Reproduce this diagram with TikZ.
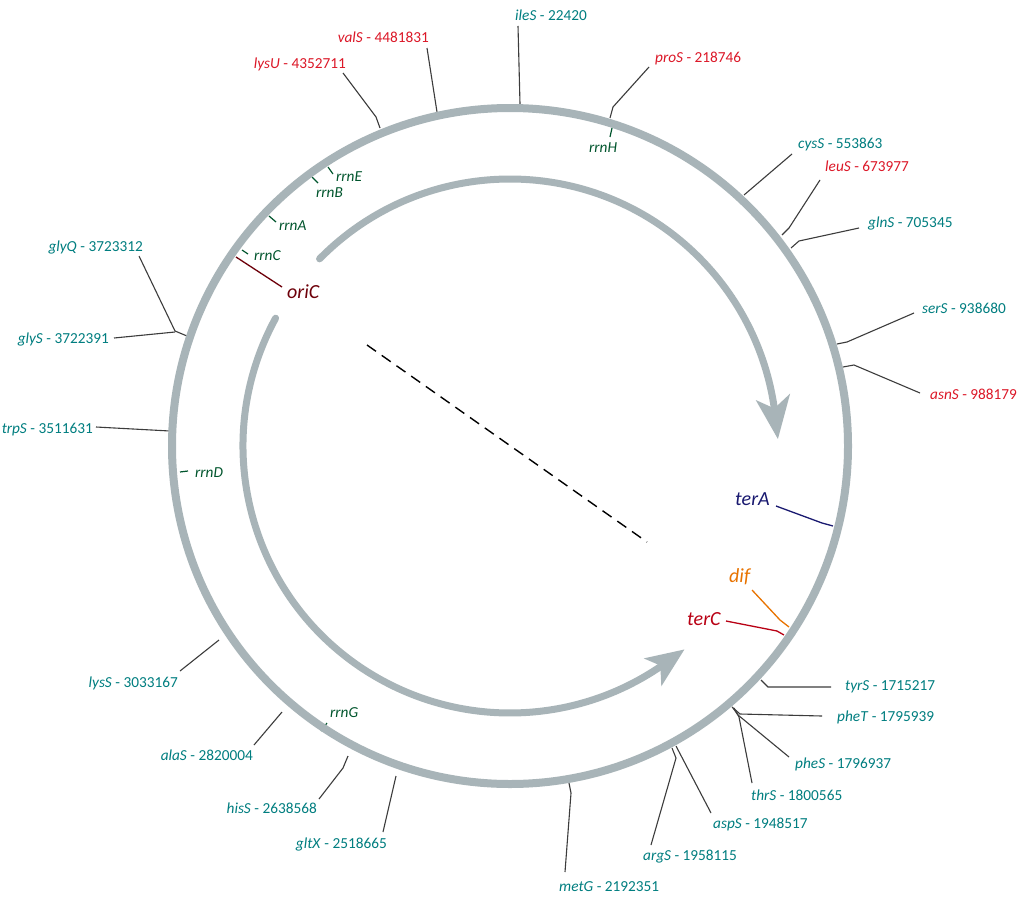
\documentclass[tikz,border=0pt]{standalone}
\usepackage{fontspec}
\setmainfont{Carlito}
\usetikzlibrary{calc}
\definecolor{bandc}{RGB}{168,180,184}
\definecolor{leadc}{RGB}{60,60,60}
\definecolor{tealc}{RGB}{0,126,128}
\definecolor{redc}{RGB}{220,24,40}
\definecolor{rrnc}{RGB}{0,85,45}
\definecolor{oric}{RGB}{110,0,10}
\definecolor{terac}{RGB}{25,25,112}
\definecolor{difc}{RGB}{232,115,0}
\definecolor{tercc}{RGB}{185,0,20}
\begin{document}
\begin{tikzpicture}[x=1pt,y=-1pt,
  band/.style={draw=bandc, line width=8pt},
  inarc/.style={draw=bandc, line width=7pt},
  lead/.style={draw=leadc, line width=1.1pt},
  gene/.style={font=\fontsize{15.3}{18}\selectfont, inner sep=0pt, text=tealc},
  rgene/.style={gene, text=redc},
  rrn/.style={font=\fontsize{15.3}{18}\selectfont\itshape, inner sep=0pt, text=rrnc},
  tickline/.style={draw=rrnc, line width=1.2pt},
  big/.style={font=\fontsize{20}{24}\selectfont\itshape, inner sep=0pt}]
\useasboundingbox[fill=white] (0,0) rectangle (1024,899);
\coordinate (c) at (510,446);

% ---- gene labels ----
\node[rgene, anchor=base east] (lysU) at (346,68) {\textit{lysU} - 4352711};
\node[rgene, anchor=base east] (valS) at (429,42) {\textit{valS} - 4481831};
\node[gene, anchor=base west] (ileS) at (515,21) {\textit{ileS} - 22420};
\node[rgene, anchor=base west] (proS) at (655,63) {\textit{proS} - 218746};
\node[gene, anchor=base west] (cysS) at (798,148) {\textit{cysS} - 553863};
\node[rgene, anchor=base west] (leuS) at (825,171) {\textit{leuS} - 673977};
\node[gene, anchor=base west] (glnS) at (868,227) {\textit{glnS} - 705345};
\node[gene, anchor=base west] (serS) at (922,313) {\textit{serS} - 938680};
\node[rgene, anchor=base west] (asnS) at (930,399) {\textit{asnS} - 988179};
\node[gene, anchor=base west] (tyrS) at (845,690) {\textit{tyrS} - 1715217};
\node[gene, anchor=base west] (pheT) at (837,721) {\textit{pheT} - 1795939};
\node[gene, anchor=base west] (pheS) at (795,768) {\textit{pheS} - 1796937};
\node[gene, anchor=base west] (thrS) at (751,800) {\textit{thrS} - 1800565};
\node[gene, anchor=base west] (aspS) at (713,828) {\textit{aspS} - 1948517};
\node[gene, anchor=base west] (argS) at (643,860) {\textit{argS} - 1958115};
\node[gene, anchor=base west] (metG) at (559,891) {\textit{metG} - 2192351};
\node[gene, anchor=base east] (gltX) at (387,848) {\textit{gltX} - 2518665};
\node[gene, anchor=base east] (hisS) at (317,813) {\textit{hisS} - 2638568};
\node[gene, anchor=base east] (alaS) at (253,760) {\textit{alaS} - 2820004};
\node[gene, anchor=base east] (lysS) at (178,687) {\textit{lysS} - 3033167};
\node[gene, anchor=base east] (glyQ) at (143,251) {\textit{glyQ} - 3723312};
\node[gene, anchor=base east] (glyS) at (109,343) {\textit{glyS} - 3722391};
\node[gene, anchor=base east] (trpS) at (93,433) {\textit{trpS} - 3511631};

% ---- rrn labels ----
\node[rrn, anchor=base west] (rrnE) at (336,181) {rrnE};
\node[rrn, anchor=base west] (rrnB) at (316,197) {rrnB};
\node[rrn, anchor=base west] (rrnA) at (279,230) {rrnA};
\node[rrn, anchor=base west] (rrnC) at (254,260) {rrnC};
\node[rrn, anchor=base west] (rrnD) at (195,477) {rrnD};
\node[rrn, anchor=base west] (rrnG) at (330,717) {rrnG};
\node[rrn, anchor=base west] (rrnH) at (589,152) {rrnH};

% ---- big labels ----
\node[big, text=oric, anchor=base west] (oriC) at (287,298) {oriC};
\node[big, text=terac, anchor=base west] (terA) at (735,505) {terA};
\node[big, text=difc, anchor=base west] (dif) at (729,582) {dif};
\node[big, text=tercc, anchor=base west] (terC) at (687,625) {terC};

% ---- leader coordinates ----
\coordinate (lysU1) at (343,73); \coordinate (lysU2) at (376,117); \coordinate (lysU3) at (380,128);
\coordinate (valS1) at (427,48); \coordinate (valS2) at (437,112);
\coordinate (ileS1) at (518,26); \coordinate (ileS2) at (520,104);
\coordinate (proS1) at (649,67); \coordinate (proS2) at (613,107); \coordinate (proS3) at (610,118);
\coordinate (cysS1) at (792,154); \coordinate (cysS2) at (744,195);
\coordinate (leuS1) at (820,180); \coordinate (leuS2) at (789,228); \coordinate (leuS3) at (782,235);
\coordinate (glnS1) at (859,228); \coordinate (glnS2) at (799,241); \coordinate (glnS3) at (791,248);
\coordinate (serS1) at (914,313); \coordinate (serS2) at (847,342); \coordinate (serS3) at (837,344);
\coordinate (asnS1) at (920,393); \coordinate (asnS2) at (854,365); \coordinate (asnS3) at (843,367);
\coordinate (tyrS1) at (831,687); \coordinate (tyrS2) at (768,687); \coordinate (tyrS3) at (761,680);
\coordinate (pheT1) at (822,716); \coordinate (pheT2) at (740,714); \coordinate (pheT3) at (732,707);
\coordinate (pheS1) at (789,757); \coordinate (pheS2) at (738,715); \coordinate (pheS3) at (733,708);
\coordinate (thrS1) at (752,783); \coordinate (thrS2) at (739,717); \coordinate (thrS3) at (734,708);
\coordinate (aspS1) at (711,813); \coordinate (aspS2) at (676,746);
\coordinate (argS1) at (651,845); \coordinate (argS2) at (676,758); \coordinate (argS3) at (672,748);
\coordinate (metG1) at (565,872); \coordinate (metG2) at (571,793); \coordinate (metG3) at (569,783);
\coordinate (gltX1) at (383,832); \coordinate (gltX2) at (396,776);
\coordinate (hisS1) at (319,799); \coordinate (hisS2) at (343,768); \coordinate (hisS3) at (348,756);
\coordinate (alaS1) at (254,745); \coordinate (alaS2) at (282,712);
\coordinate (lysS1) at (180,671); \coordinate (lysS2) at (219,640);
\coordinate (glyQ1) at (139,256); \coordinate (glyQ2) at (175,331); \coordinate (glyQ3) at (187,336);
\coordinate (glyS1) at (114,338); \coordinate (glyS2) at (175,332);
\coordinate (trpS1) at (96,427); \coordinate (trpS2) at (170,431);
\coordinate (terA1) at (776,506); \coordinate (terA2) at (822,523); \coordinate (terA3) at (833,526);
\coordinate (dif1) at (752,590); \coordinate (dif2) at (780,620); \coordinate (dif3) at (789,627);
\coordinate (terC1) at (726,621); \coordinate (terC2) at (777,631); \coordinate (terC3) at (784,635);
\coordinate (oriC1) at (282,287); \coordinate (oriC2) at (236,257);
\coordinate (rrnE1) at (328,167); \coordinate (rrnE2) at (333,174);
\coordinate (rrnB1) at (312,177); \coordinate (rrnB2) at (318,183);
\coordinate (rrnA1) at (269,216); \coordinate (rrnA2) at (276,222);
\coordinate (rrnC1) at (242,250); \coordinate (rrnC2) at (248,254);
\coordinate (rrnD1) at (180,472); \coordinate (rrnD2) at (188,471);
\coordinate (rrnG1) at (327,723); \coordinate (rrnG2) at (321,731);
\coordinate (rrnH1) at (612,128); \coordinate (rrnH2) at (610,137);
\coordinate (dash1) at (367,345); \coordinate (dash2) at (647,542);

% ---- leaders ----
\draw[lead] (lysU1) -- (lysU2) -- (lysU3);
\draw[lead] (valS1) -- (valS2);
\draw[lead] (ileS1) -- (ileS2);
\draw[lead] (proS1) -- (proS2) -- (proS3);
\draw[lead] (cysS1) -- (cysS2);
\draw[lead] (leuS1) -- (leuS2) -- (leuS3);
\draw[lead] (glnS1) -- (glnS2) -- (glnS3);
\draw[lead] (serS1) -- (serS2) -- (serS3);
\draw[lead] (asnS1) -- (asnS2) -- (asnS3);
\draw[lead] (tyrS1) -- (tyrS2) -- (tyrS3);
\draw[lead] (pheT1) -- (pheT2) -- (pheT3);
\draw[lead] (pheS1) -- (pheS2) -- (pheS3);
\draw[lead] (thrS1) -- (thrS2) -- (thrS3);
\draw[lead] (aspS1) -- (aspS2);
\draw[lead] (argS1) -- (argS2) -- (argS3);
\draw[lead] (metG1) -- (metG2) -- (metG3);
\draw[lead] (gltX1) -- (gltX2);
\draw[lead] (hisS1) -- (hisS2) -- (hisS3);
\draw[lead] (alaS1) -- (alaS2);
\draw[lead] (lysS1) -- (lysS2);
\draw[lead] (glyQ1) -- (glyQ2) -- (glyQ3);
\draw[lead] (glyS1) -- (glyS2);
\draw[lead] (trpS1) -- (trpS2);
\draw[terac, line width=1.3pt] (terA1) -- (terA2) -- (terA3);
\draw[difc, line width=1.3pt] (dif1) -- (dif2) -- (dif3);
\draw[tercc, line width=1.3pt] (terC1) -- (terC2) -- (terC3);
\draw[oric, line width=1.3pt] (oriC1) -- (oriC2);
\draw[tickline] (rrnE1) -- (rrnE2);
\draw[tickline] (rrnB1) -- (rrnB2);
\draw[tickline] (rrnA1) -- (rrnA2);
\draw[tickline] (rrnC1) -- (rrnC2);
\draw[tickline] (rrnD1) -- (rrnD2);
\draw[tickline] (rrnG1) -- (rrnG2);
\draw[tickline] (rrnH1) -- (rrnH2);

% ---- chromosome ----
\draw[band] (c) circle[radius=338];

% ---- replichores ----
\draw[inarc, line cap=round] (c) ++(-135.5:267) arc[start angle=-135.5, end angle=-8.3, radius=267];
\fill[bandc] (c) +(-1.5:268) -- +(-10.6:285) -- +(-8.1:267) -- +(-10.6:250) -- cycle;
\draw[inarc, line cap=round] (c) ++(-151.4:267) arc[start angle=-151.4, end angle=-304.2, radius=267];
\fill[bandc] (c) +(49.4:268) -- +(57.8:284) -- +(55.6:266) -- +(57.8:251) -- cycle;

% ---- axis ----
\draw[black, line width=1.4pt, dash pattern=on 11pt off 7pt] (dash1) -- (dash2);
\end{tikzpicture}
\end{document}
